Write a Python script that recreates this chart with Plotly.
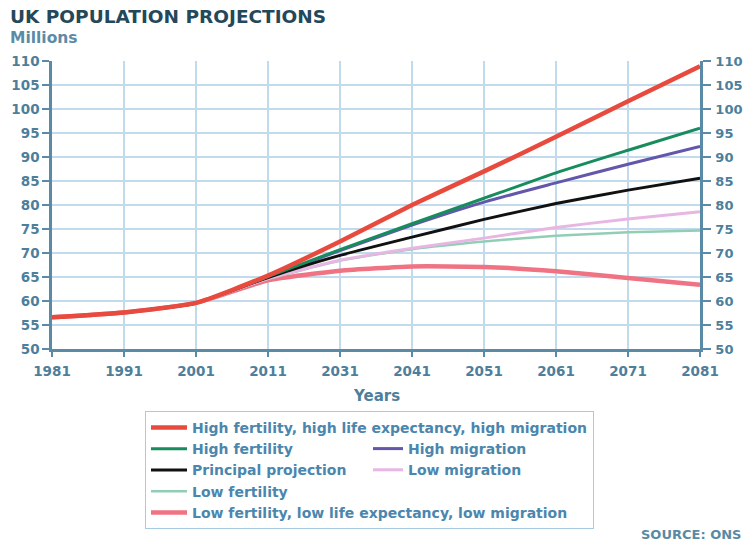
import plotly.graph_objects as go

# Census / projection years shown on the horizontal axis
years = ["1981", "1991", "2001", "2011", "2031", "2041", "2051", "2061", "2071", "2081"]

# UK population, millions, for each projection variant
high_all = [56.6, 57.6, 59.6, 65.3, 72.4, 80.0, 87.0, 94.2, 101.6, 108.9]
high_fertility = [56.6, 57.6, 59.6, 65.1, 70.7, 76.1, 81.4, 86.7, 91.4, 96.0]
high_migration = [56.6, 57.6, 59.6, 65.0, 70.5, 75.8, 80.6, 84.6, 88.5, 92.2]
principal = [56.6, 57.6, 59.6, 64.9, 69.5, 73.3, 77.0, 80.3, 83.1, 85.6]
low_migration = [56.6, 57.6, 59.6, 64.7, 68.5, 71.0, 73.1, 75.3, 77.1, 78.6]
low_fertility = [56.6, 57.6, 59.6, 64.6, 68.4, 70.8, 72.4, 73.6, 74.3, 74.7]
low_all = [56.6, 57.6, 59.6, 64.3, 66.3, 67.2, 67.1, 66.2, 64.8, 63.4]

y_ticks = list(range(50, 111, 5))

TICK_COLOR = "#4d7f9c"
AXIS_COLOR = "#5b8aa6"
GRID_COLOR = "#c2dbec"
LEGEND_TEXT = "#4a86ad"
FONT = "DejaVu Sans"

# (name, values, colour, width, legend, rank, axis) in drawing order
series = [
    ("Low fertility, low life expectancy, low migration", low_all, "#f07383", 4.5, "legend", 5, "y"),
    ("Low fertility", low_fertility, "#92ceb6", 2.5, "legend", 4, "y"),
    ("Low migration", low_migration, "#e8b6e2", 3, "legend2", 2, "y"),
    ("High migration", high_migration, "#6257aa", 3, "legend2", 1, "y"),
    ("Principal projection", principal, "#111111", 3, "legend", 3, "y"),
    ("High fertility", high_fertility, "#178c5c", 3, "legend", 2, "y"),
    ("High fertility, high life expectancy, high migration", high_all, "#e84b3d", 4.5, "legend", 1, "y2"),
]

fig = go.Figure()
for name, vals, color, width, leg, rank, yax in series:
    fig.add_trace(go.Scatter(
        x=years, y=vals, name=name, mode="lines",
        line=dict(color=color, width=width, shape="spline", smoothing=0.5),
        legend=leg, legendrank=rank, yaxis=yax,
    ))

tick_font = dict(family=FONT, size=13.5, color=TICK_COLOR, weight="bold")

yaxis_common = dict(
    range=[50, 110], tickvals=y_ticks, ticks="outside", automargin=False,
    tickcolor=AXIS_COLOR, tickwidth=1.5, showline=True, linecolor=AXIS_COLOR,
    linewidth=2.5, zeroline=False, fixedrange=True,
)

fig.update_layout(
    width=744, height=542,
    margin=dict(l=52, r=44, t=61, b=193, autoexpand=False),
    paper_bgcolor="white", plot_bgcolor="white",
    font=dict(family=FONT),
    title=dict(
        text="UK POPULATION PROJECTIONS", x=10 / 744, xanchor="left",
        xref="container", y=1 - 17 / 542, yref="container", yanchor="middle",
        font=dict(family=FONT, size=18.5, color="#24485a", weight="bold"),
    ),
    xaxis=dict(
        type="category", categoryorder="array", categoryarray=years,
        range=[0, 9], showgrid=True, gridcolor=GRID_COLOR, gridwidth=1.5,
        ticks="outside", ticklen=5, tickcolor=AXIS_COLOR, tickwidth=1.5,
        ticklabelstandoff=3, automargin=False,
        showline=True, linecolor=AXIS_COLOR, linewidth=2.5,
        tickfont=tick_font, fixedrange=True,
    ),
    yaxis=dict(**yaxis_common, ticklen=7, ticklabelstandoff=0, tickfont=tick_font,
               showgrid=True, gridcolor=GRID_COLOR, gridwidth=1.5),
    yaxis2=dict(**yaxis_common, ticklen=8, ticklabelstandoff=2,
                tickfont=dict(tick_font, size=13),
                overlaying="y", side="right", showgrid=False),
    legend=dict(
        x=(145 - 52) / 648, y=(349 - 411) / 288, xanchor="left", yanchor="top",
        traceorder="normal", bgcolor="rgba(255,255,255,0)",
        bordercolor="#a9cbe0", borderwidth=1, itemwidth=36,
        font=dict(family=FONT, size=14, color=LEGEND_TEXT, weight="bold"),
    ),
    legend2=dict(
        x=(368 - 52) / 648, y=(349 - 433) / 288, xanchor="left", yanchor="top",
        traceorder="normal", bgcolor="rgba(255,255,255,0)", borderwidth=0,
        itemwidth=30,
        font=dict(family=FONT, size=14, color=LEGEND_TEXT, weight="bold"),
    ),
    annotations=[
        dict(text="Millions", xref="paper", yref="paper",
             x=(8 - 52) / 648, y=(349 - 38) / 288, xanchor="left", yanchor="middle",
             showarrow=False, font=dict(family=FONT, size=15.5, color="#5c8ba6", weight="bold")),
        dict(text="Years", xref="paper", yref="paper",
             x=0.5, y=(349 - 396) / 288, xanchor="center", yanchor="middle",
             showarrow=False, font=dict(family=FONT, size=15, color=TICK_COLOR, weight="bold")),
        dict(text="SOURCE: ONS", xref="paper", yref="paper",
             x=(743 - 52) / 648, y=(349 - 534) / 288, xanchor="right", yanchor="middle",
             showarrow=False, font=dict(family=FONT, size=13, color="#5a8aa3", weight="bold")),
    ],
    showlegend=True,
)

fig.write_html("out.html")
